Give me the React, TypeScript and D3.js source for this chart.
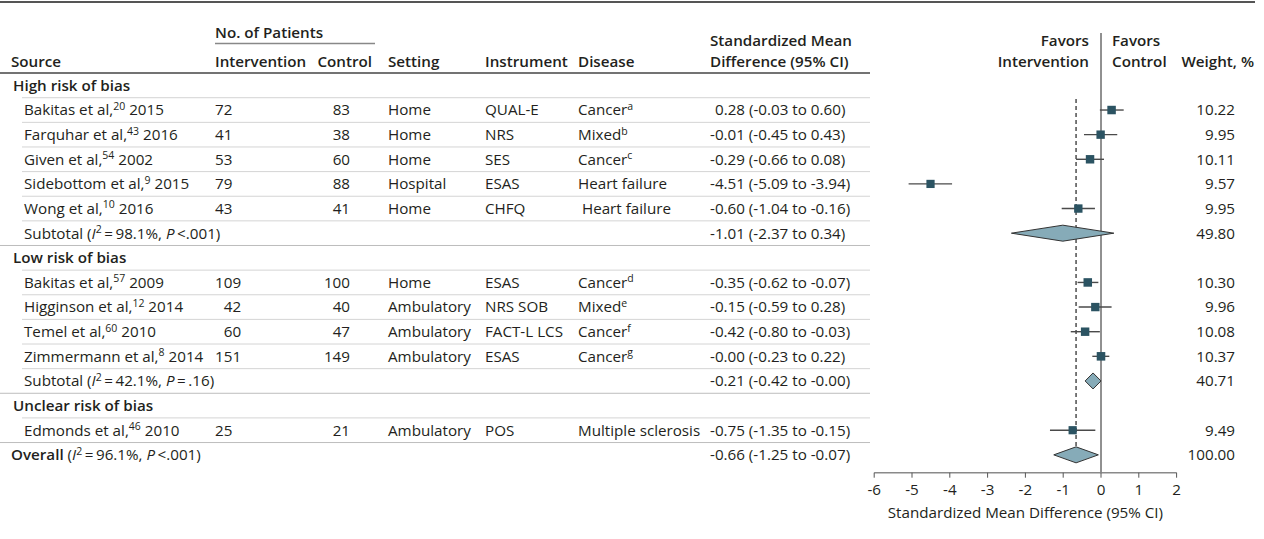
import React from "react";
import * as d3 from "d3";

const groupNames = ["High risk of bias", "Low risk of bias", "Unclear risk of bias"];
const studyGroup = [0, 0, 0, 0, 0, 1, 1, 1, 1, 2];
const authors = ["Bakitas et al,", "Farquhar et al,", "Given et al,", "Sidebottom et al,", "Wong et al,", "Bakitas et al,", "Higginson et al,", "Temel et al,", "Zimmermann et al,", "Edmonds et al,"];
const refs = ["20", "43", "54", "9", "10", "57", "12", "60", "8", "46"];
const years = ["2015", "2016", "2002", "2015", "2016", "2009", "2014", "2010", "2014", "2010"];
const nIntervention = [72, 41, 53, 79, 43, 109, 42, 60, 151, 25];
const nControl = [83, 38, 60, 88, 41, 100, 40, 47, 149, 21];
const settings = ["Home", "Home", "Home", "Hospital", "Home", "Home", "Ambulatory", "Ambulatory", "Ambulatory", "Ambulatory"];
const instruments = ["QUAL-E", "NRS", "SES", "ESAS", "CHFQ", "ESAS", "NRS SOB", "FACT-L LCS", "ESAS", "POS"];
const diseases = ["Cancer", "Mixed", "Cancer", "Heart failure", " Heart failure", "Cancer", "Mixed", "Cancer", "Cancer", "Multiple sclerosis"];
const diseaseNotes = ["a", "b", "c", "", "", "d", "e", "f", "g", ""];
const smd = [0.28, -0.01, -0.29, -4.51, -0.6, -0.35, -0.15, -0.42, -0, -0.75];
const ciLow = [-0.03, -0.45, -0.66, -5.09, -1.04, -0.62, -0.59, -0.8, -0.23, -1.35];
const ciHigh = [0.6, 0.43, 0.08, -3.94, -0.16, -0.07, 0.28, -0.03, 0.22, -0.15];
const weights = [10.22, 9.95, 10.11, 9.57, 9.95, 10.3, 9.96, 10.08, 10.37, 9.49];

const subtotalGroups = [0, 1];
const subtotalI2 = ["98.1%", "42.1%"];
const subtotalP = ["<.001", "=\u2009.16"];
const subtotalSmd = [-1.01, -0.21];
const subtotalLow = [-2.37, -0.42];
const subtotalHigh = [0.34, -0];
const subtotalWeight = [49.8, 40.71];

const overallI2 = "96.1%";
const overallP = "<.001";
const overallSmd = -0.66;
const overallLow = -1.25;
const overallHigh = -0.07;
const overallWeight = 100.0;

const tickValues = [-6, -5, -4, -3, -2, -1, 0, 1, 2];

const FONT = "'Open Sans', 'Noto Sans', sans-serif";
const FS = 15.2;
const TEXT = "#231f20";
const SQUARE = "#2b5362";
const DIAMOND = "#86abb8";

const fmt = (v: number) => (v < 0 || Object.is(v, -0) ? "-" : "") + Math.abs(v).toFixed(2);
const isNeg = (v: number) => v < 0 || Object.is(v, -0);

type Row =
  | { kind: "group"; g: number }
  | { kind: "study"; i: number }
  | { kind: "subtotal"; s: number }
  | { kind: "overall" };

export default function App() {
  const W = 1264;
  const H = 539;
  const rows: Row[] = [];
  groupNames.forEach((_, g) => {
    rows.push({ kind: "group", g });
    studyGroup.forEach((sg, i) => {
      if (sg === g) rows.push({ kind: "study", i });
    });
    const s = subtotalGroups.indexOf(g);
    if (s >= 0) rows.push({ kind: "subtotal", s });
  });
  rows.push({ kind: "overall" });

  const y0 = 85.4;
  const rowH = 24.63;
  const rowY = (k: number) => y0 + k * rowH;
  const base = 5.4;

  const x = d3.scaleLinear().domain([-6, 2]).range([874.2, 1176.6]);
  const axisY = 472.7;

  const digitW = FS * 0.572;
  const hyphenW = FS * 0.33;
  const colSource = 11;
  const colGroup = 13;
  const colStudy = 24;
  const colInt = 215;
  const colCtrlEnd = 350;
  const colSetting = 388;
  const colInstr = 485;
  const colDisease = 578;
  const colSmd = 710;
  const tableEnd = 870;
  const colWeightEnd = 1235;

  const groupMaxDigits = groupNames.map((_, g) =>
    d3.max(nIntervention.filter((_, i) => studyGroup[i] === g).map((n) => String(n).length)) || 2
  );

  const overallRowIdx = rows.length - 1;
  const indented = (r: Row) => r.kind === "study" || r.kind === "subtotal";

  const sup = (t: string, key: string) => (
    <tspan key={key} fontSize={10.5} dy={-5.5}>
      {t}
    </tspan>
  );

  const diamond = (est: number, lo: number, hi: number, cy: number) => {
    const hh = 8;
    const path = d3.path();
    path.moveTo(x(lo), cy);
    path.lineTo(x(est), cy - hh);
    path.lineTo(x(hi), cy);
    path.lineTo(x(est), cy + hh);
    path.closePath();
    return <path d={path.toString()} fill={DIAMOND} stroke="#333" strokeWidth={1} />;
  };

  const smdText = (est: number, lo: number, hi: number, cy: number) => (
    <text x={colSmd + (isNeg(est) ? 0 : hyphenW)} y={cy + base}>
      {`${fmt(est)} (${fmt(lo)} to ${fmt(hi)})`}
    </text>
  );

  const weightText = (w: number, cy: number) => (
    <text x={colWeightEnd} y={cy + base} textAnchor="end">
      {w.toFixed(2)}
    </text>
  );

  const hetText = (label: string, bold: boolean, i2: string, p: string) => (
    <>
      <tspan fontWeight={bold ? 600 : 400}>{label}</tspan>
      <tspan>{" ("}</tspan>
      <tspan fontStyle="italic">I</tspan>
      <tspan fontSize={10.5} dy={-5.5}>2</tspan>
      <tspan dy={5.5}>{`\u2009=\u2009${i2}, `}</tspan>
      <tspan fontStyle="italic">P</tspan>
      <tspan>{`\u2009${p})`}</tspan>
    </>
  );

  return (
    <svg width={W} height={H} style={{ display: "block", position: "absolute", left: 0, top: 0 }} fontFamily={FONT} fontSize={FS} fill={TEXT}>
      <rect x={0} y={0} width={W} height={H} fill="#fff" />
      <line x1={0} x2={1255} y1={2} y2={2} stroke="#555" strokeWidth={2} />

      <g fontWeight={600}>
        <text x={colInt} y={38}>No. of Patients</text>
        <text x={colSource} y={67}>Source</text>
        <text x={colInt} y={67}>Intervention</text>
        <text x={372} y={67} textAnchor="end">Control</text>
        <text x={colSetting} y={67}>Setting</text>
        <text x={colInstr} y={67}>Instrument</text>
        <text x={colDisease} y={67}>Disease</text>
        <text x={colSmd} y={46}>Standardized Mean</text>
        <text x={colSmd} y={67}>Difference (95% CI)</text>
        <text x={1089} y={46} textAnchor="end">Favors</text>
        <text x={1089} y={67} textAnchor="end">Intervention</text>
        <text x={1112} y={46}>Favors</text>
        <text x={1112} y={67}>Control</text>
        <text x={1254} y={67} textAnchor="end">Weight, %</text>
      </g>
      <line x1={colInt} x2={375} y1={43.5} y2={43.5} stroke="#888" strokeWidth={1.5} />
      <line x1={0} x2={tableEnd} y1={73} y2={73} stroke="#444" strokeWidth={1.5} />

      {rows.map((r, k) => {
        if (k === overallRowIdx) return null;
        const next = rows[k + 1];
        const yy = rowY(k) + rowH / 2;
        return (
          <line
            key={`sep${k}`}
            x1={indented(next) ? 22 : 0}
            x2={tableEnd}
            y1={yy}
            y2={yy}
            stroke={indented(next) ? "#d4d4d4" : "#bdbdbd"}
            strokeWidth={1}
          />
        );
      })}

      <line x1={x(0)} x2={x(0)} y1={33} y2={axisY} stroke="#222" strokeWidth={1} />
      <line x1={x(overallSmd)} x2={x(overallSmd)} y1={99} y2={rowY(overallRowIdx)} stroke="#222" strokeWidth={1.2} strokeDasharray="4,3" />

      {rows.map((r, k) => {
        const cy = rowY(k);
        if (r.kind === "group") {
          return (
            <text key={`r${k}`} x={colGroup} y={cy + base} fontWeight={600}>
              {groupNames[r.g]}
            </text>
          );
        }
        if (r.kind === "study") {
          const i = r.i;
          const g = studyGroup[i];
          const side = 8.4 * Math.sqrt(weights[i] / 10);
          return (
            <g key={`r${k}`}>
              <text x={colStudy} y={cy + base}>
                <tspan>{authors[i]}</tspan>
                {sup(refs[i], "s")}
                <tspan dy={5.5}>{` ${years[i]}`}</tspan>
              </text>
              <text x={colInt + groupMaxDigits[g] * digitW} y={cy + base} textAnchor="end">
                {nIntervention[i]}
              </text>
              <text x={colCtrlEnd} y={cy + base} textAnchor="end">
                {nControl[i]}
              </text>
              <text x={colSetting} y={cy + base}>{settings[i]}</text>
              <text x={colInstr} y={cy + base}>{instruments[i]}</text>
              <text x={colDisease} y={cy + base} style={{ whiteSpace: "pre" }}>
                <tspan>{diseases[i]}</tspan>
                {diseaseNotes[i] ? sup(diseaseNotes[i], "d") : null}
              </text>
              {smdText(smd[i], ciLow[i], ciHigh[i], cy)}
              {weightText(weights[i], cy)}
              <line x1={x(ciLow[i])} x2={x(ciHigh[i])} y1={cy} y2={cy} stroke="#4a4a4a" strokeWidth={1.4} />
              <rect x={x(smd[i]) - side / 2} y={cy - side / 2} width={side} height={side} fill={SQUARE} />
            </g>
          );
        }
        if (r.kind === "subtotal") {
          const s = r.s;
          return (
            <g key={`r${k}`}>
              <text x={colStudy} y={cy + base}>
                {hetText("Subtotal", false, subtotalI2[s], subtotalP[s])}
              </text>
              {smdText(subtotalSmd[s], subtotalLow[s], subtotalHigh[s], cy)}
              {weightText(subtotalWeight[s], cy)}
              {diamond(subtotalSmd[s], subtotalLow[s], subtotalHigh[s], cy)}
            </g>
          );
        }
        return (
          <g key={`r${k}`}>
            <text x={colSource} y={cy + base}>
              {hetText("Overall", true, overallI2, overallP)}
            </text>
            {smdText(overallSmd, overallLow, overallHigh, cy)}
            {weightText(overallWeight, cy)}
            {diamond(overallSmd, overallLow, overallHigh, cy)}
          </g>
        );
      })}

      <line x1={x(-6)} x2={x(2)} y1={axisY} y2={axisY} stroke="#8a8a8a" strokeWidth={1.5} />
      {tickValues.map((t) => (
        <g key={`t${t}`}>
          <line x1={x(t)} x2={x(t)} y1={axisY} y2={axisY + 5} stroke="#555" strokeWidth={1} />
          <text x={x(t)} y={axisY + 22} textAnchor="middle">
            {t < 0 ? `-${Math.abs(t)}` : String(t)}
          </text>
        </g>
      ))}
      <text x={(x(-6) + x(2)) / 2} y={axisY + 45} textAnchor="middle">
        Standardized Mean Difference (95% CI)
      </text>
    </svg>
  );
}
